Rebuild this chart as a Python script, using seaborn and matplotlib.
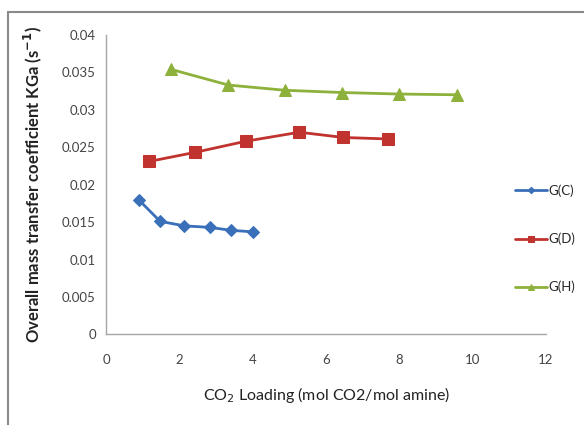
import matplotlib as mpl
from matplotlib import pyplot as plt
import pandas as pd
import seaborn as sns

# CO2 loading (x) and KGa (y) per series
gc_x = [0.88, 1.47, 2.13, 2.82, 3.41, 4.01]
gc_y = [0.0180, 0.0151, 0.0145, 0.0143, 0.0139, 0.0137]
gd_x = [1.17, 2.41, 3.81, 5.27, 6.47, 7.69]
gd_y = [0.0231, 0.0243, 0.0258, 0.0270, 0.0263, 0.0261]
gh_x = [1.76, 3.33, 4.88, 6.44, 7.98, 9.56]
gh_y = [0.0354, 0.0333, 0.0326, 0.0323, 0.0321, 0.0320]
series_names = ["G(C)", "G(D)", "G(H)"]
x_ticks = [0, 2, 4, 6, 8, 10, 12]
y_ticks = [0, 0.005, 0.01, 0.015, 0.02, 0.025, 0.03, 0.035, 0.04]
y_tick_labels = ["0", "0.005", "0.01", "0.015", "0.02", "0.025", "0.03", "0.035", "0.04"]

df = pd.concat(
    [
        pd.DataFrame({"x": gc_x, "y": gc_y, "series": series_names[0]}),
        pd.DataFrame({"x": gd_x, "y": gd_y, "series": series_names[1]}),
        pd.DataFrame({"x": gh_x, "y": gh_y, "series": series_names[2]}),
    ],
    ignore_index=True,
)

sns.set_style("white")
plt.rcParams["font.family"] = ["Lato", "DejaVu Sans"]

fig = plt.figure(figsize=(5.84, 4.25), dpi=100)
ax = fig.add_axes([0.182, 0.213, 0.753, 0.705])

palette = {"G(C)": "#3a6fba", "G(D)": "#c0332f", "G(H)": "#8db13a"}
markers = {"G(C)": "D", "G(D)": "s", "G(H)": "^"}
sizes = {"G(C)": 6, "G(D)": 9, "G(H)": 9}

for name in series_names:
    sub = df[df["series"] == name]
    sns.lineplot(
        data=sub,
        x="x",
        y="y",
        ax=ax,
        color=palette[name],
        marker=markers[name],
        markersize=sizes[name],
        markeredgecolor=palette[name],
        linewidth=2.0,
        label=name,
        sort=False,
    )

ax.set_xlim(0, 12)
ax.set_ylim(0, 0.04)
ax.set_xticks(x_ticks)
ax.set_xticklabels([str(t) for t in x_ticks])
ax.set_yticks(y_ticks)
ax.set_yticklabels(y_tick_labels)
ax.tick_params(axis="both", labelsize=9.5, colors="#555555", labelcolor="#444444")
ax.tick_params(axis="y", direction="out", length=4, width=0.8)
ax.tick_params(axis="x", direction="in", length=0, pad=14)

for side in ["top", "right"]:
    ax.spines[side].set_visible(False)
for side in ["left", "bottom"]:
    ax.spines[side].set_color("#a6a6a6")
    ax.spines[side].set_linewidth(1.0)

ax.set_xlabel("CO$_2$ Loading (mol CO2/mol amine)", fontsize=11.5, color="#222222", labelpad=14)
ax.set_ylabel(
    r"Overall mass transfer coefficient KGa (s$^{\mathbf{-1}}$)",
    fontsize=12,
    fontweight="bold",
    color="#222222",
    labelpad=13,
)

ax.legend(
    loc="center left",
    bbox_to_anchor=(0.862, 0.438),
    bbox_transform=fig.transFigure,
    frameon=False,
    fontsize=9.5,
    markerscale=0.55,
    handlelength=2.4,
    handletextpad=0.1,
    labelspacing=2.7,
)

# outer frame (top and left edges of the pasted chart)
fig.add_artist(mpl.lines.Line2D([8 / 584, 1], [1 - 12 / 425] * 2, color="#8a8a8a", lw=1.5))
fig.add_artist(mpl.lines.Line2D([8 / 584] * 2, [0, 1 - 12 / 425], color="#8a8a8a", lw=1.5))

fig.savefig("out.png", dpi=100)
